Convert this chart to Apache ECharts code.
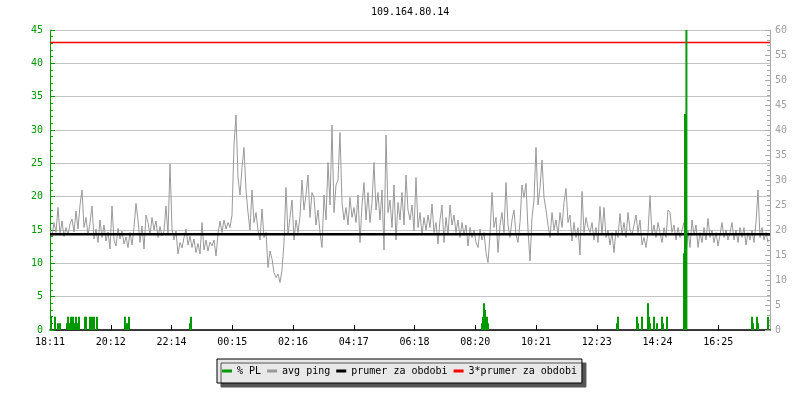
<!DOCTYPE html>
<html>
<head>
<meta charset="utf-8">
<script src="https://cdn.jsdelivr.net/npm/echarts@6/dist/echarts.min.js"></script>
<style>
html,body{margin:0;padding:0;background:#fff;}
#chart{width:800px;height:400px;}
</style>
</head>
<body>
<div id="chart"></div>
<script>
// ---- data ----
const titleText = '109.164.80.14';
const xLabels = ['18:11','20:12','22:14','00:15','02:16','04:17','06:18','08:20','10:21','12:23','14:24','16:25'];
const sampleCount = 360;      // samples across the 24h window
const labelStep = 30.375;     // samples between time labels

// avg ping (ms, right axis)
const pingValues = [
20.0,18.8,21.5,19.5,24.5,19.2,21.8,18.7,20.5,19.0,
21.2,22.2,19.6,23.8,20.2,25.0,28.0,20.5,22.5,19.0,
21.5,24.8,18.2,20.2,17.5,22.0,18.5,21.0,17.8,19.6,
16.2,24.8,18.0,16.8,20.3,18.2,19.8,17.2,18.6,16.5,
19.5,17.0,20.5,25.3,22.0,17.5,20.8,16.2,23.0,21.5,
19.0,22.5,20.0,21.8,18.5,20.7,18.8,19.8,24.8,19.0,
33.2,20.2,18.0,19.8,15.2,17.5,16.4,18.5,20.2,17.0,
18.8,16.5,18.2,15.5,17.3,15.2,21.5,16.0,18.0,15.8,
17.6,16.8,18.0,14.8,19.2,21.8,19.5,22.0,20.2,21.5,
20.5,23.0,37.0,43.0,30.5,27.0,32.5,36.5,28.0,23.5,
20.0,28.0,21.5,23.5,20.0,18.0,24.2,18.5,19.5,12.5,
15.8,14.2,11.5,10.5,11.2,9.5,12.0,17.5,28.5,19.0,
22.5,26.0,18.0,22.0,19.5,22.8,30.0,24.0,27.0,31.0,
22.5,27.5,26.5,21.0,24.0,19.5,16.5,27.0,22.0,33.5,
25.0,41.0,23.5,29.0,30.0,39.5,25.5,22.0,24.5,21.0,
26.5,22.5,24.5,21.5,27.0,17.5,25.0,29.5,22.0,27.5,
21.5,25.5,33.5,24.0,27.5,22.0,28.0,16.0,39.0,23.5,
26.0,20.5,29.0,18.0,25.5,22.0,27.5,21.0,31.0,24.0,
22.0,25.0,19.8,30.5,20.5,23.5,19.0,22.5,20.0,23.0,
20.5,25.2,19.5,21.5,17.2,22.0,25.0,17.5,22.5,19.0,
25.0,21.0,23.0,19.5,22.0,18.5,21.5,19.0,21.0,16.8,
20.5,18.5,20.0,17.5,16.5,20.2,18.0,19.5,15.5,13.5,
19.0,27.5,20.5,22.5,15.5,21.0,23.5,19.5,29.5,21.0,
18.5,22.0,24.0,19.0,17.5,21.5,29.0,26.5,29.3,20.0,
13.8,22.5,26.0,36.5,25.0,28.5,34.0,26.5,24.0,21.0,
18.5,23.5,20.0,22.0,19.0,23.5,20.5,25.5,28.3,21.5,
23.0,17.8,21.5,18.5,20.5,15.0,27.7,19.5,22.5,20.5,
19.5,21.5,18.0,20.5,17.5,24.7,19.0,24.5,18.5,20.0,
17.0,19.5,15.5,20.0,18.5,23.3,19.0,21.5,18.5,23.5,
20.0,19.0,21.0,23.0,19.5,22.0,17.0,18.5,16.5,19.5,
26.9,19.0,21.0,18.5,21.5,19.5,17.5,20.5,18.5,24.0,
23.5,19.5,21.0,18.0,20.5,18.5,20.0,21.5,14.5,20.0,
16.5,22.0,19.0,21.0,16.5,19.5,17.5,20.5,18.0,22.3,
18.5,20.0,17.5,19.5,16.8,19.0,21.5,18.5,20.0,18.0,
19.5,21.5,18.0,20.0,17.5,20.5,18.5,20.5,17.0,19.5,
18.0,20.0,17.5,21.5,28.0,18.5,20.5,18.0,19.5,17.5
];

// % packet loss (left axis): sample position and value
const plPos = [0.5,2.5,4,5,8.5,9,10,10.5,11.5,12.5,13,14,14.5,17.5,18,20,21,22,23.5,37.5,
  38.5,39.5,70,70.5,216,216.5,217,217.5,218,218.5,219,283.5,284,293.5,294,296,299,299.5,300,302,
  303.5,306,306.5,308.5,317,317.5,318.2,351,351.5,353.5,354,359];
const plVal = [2,2,1,1,1,2,1,2,2,1,2,1,2,2,2,2,2,2,2,2,
  1,2,1,2,1,2,4,3,1,2,1,1,2,2,1,2,4,2,1,2,
  1,2,1,2,11.5,32.4,100,2,1,2,1,2];

const prumer = 19.17;        // period average (ms)
const trojPrumer = 57.5;     // 3 * average (ms)

const seriesNames = ['% PL','avg ping','prumer za obdobi','3*prumer za obdobi'];

// ---- chart ----
const FONT = 'DejaVu Sans Mono';
const GREEN = '#009900';
const GREY = '#999999';
const chart = echarts.init(document.getElementById('chart'), null, {renderer:'canvas'});

chart.setOption({
  animation: false,
  backgroundColor: '#ffffff',
  title: {
    text: titleText,
    left: 371, top: 7, padding: 0,
    textStyle: {fontFamily: FONT, fontSize: 10, fontWeight: 'normal', color: '#000'}
  },
  legend: {
    data: seriesNames,
    left: 217, top: 359,
    padding: [6,5,6,5],
    itemGap: 6, itemWidth: 10, itemHeight: 3,
    icon: 'rect',
    backgroundColor: '#e8e8e8',
    borderColor: '#000', borderWidth: 1, borderRadius: 0,
    shadowColor: '#555555', shadowBlur: 0, shadowOffsetX: 4, shadowOffsetY: 4,
    textStyle: {fontFamily: FONT, fontSize: 10, color: '#000', lineHeight: 12}
  },
  grid: {left: 50, right: 30, top: 30, bottom: 70, containLabel: false},
  xAxis: {
    type: 'value', min: 0, max: sampleCount, interval: labelStep,
    axisLine: {show: true, onZero: false, lineStyle: {color: '#000', width: 1.5}},
    axisTick: {show: true, inside: true, length: 5, lineStyle: {color: '#000', width: 1}},
    axisLabel: {
      show: true, margin: 7, color: '#000', fontFamily: FONT, fontSize: 10,
      showMaxLabel: false,
      formatter: function (v) {
        const i = Math.round(v / labelStep);
        if (Math.abs(v - i * labelStep) < 1e-6 && i >= 0 && i < xLabels.length) return xLabels[i];
        return '';
      }
    },
    splitLine: {show: false}
  },
  yAxis: [
    {
      type: 'value', min: 0, max: 45, interval: 5, position: 'left',
      axisLine: {show: true, lineStyle: {color: GREEN, width: 1}},
      axisTick: {show: true, inside: true, length: 5, lineStyle: {color: GREEN}},
      minorTick: {show: true, splitNumber: 5, length: 3, lineStyle: {color: GREEN}},
      axisLabel: {color: GREEN, fontFamily: FONT, fontSize: 10, margin: 7},
      splitLine: {show: true, lineStyle: {color: '#c4c4c4', width: 1}}
    },
    {
      type: 'value', min: 0, max: 60, interval: 5, position: 'right',
      axisLine: {show: true, lineStyle: {color: '#a8a8a8', width: 1}},
      axisTick: {show: true, inside: true, length: 5, lineStyle: {color: '#a8a8a8'}},
      minorTick: {show: true, splitNumber: 5, length: 3, lineStyle: {color: '#a8a8a8'}},
      axisLabel: {color: '#a0a0a0', fontFamily: FONT, fontSize: 10, margin: 5},
      splitLine: {show: false}
    }
  ],
  series: [
    {
      name: seriesNames[0], type: 'bar', yAxisIndex: 0, xAxisIndex: 0,
      data: plPos.map((p, i) => [p, plVal[i]]),
      barWidth: 2, clip: true, z: 5,
      itemStyle: {color: GREEN}
    },
    {
      name: seriesNames[1], type: 'line', yAxisIndex: 1,
      data: pingValues.map((v, i) => [i, v]),
      showSymbol: false, symbol: 'none', z: 2,
      lineStyle: {color: GREY, width: 1},
      itemStyle: {color: GREY}
    },
    {
      name: seriesNames[2], type: 'line', yAxisIndex: 1,
      data: [[0, prumer], [sampleCount, prumer]],
      showSymbol: false, symbol: 'none', z: 3,
      lineStyle: {color: '#000', width: 2.5},
      itemStyle: {color: '#000'}
    },
    {
      name: seriesNames[3], type: 'line', yAxisIndex: 1,
      data: [[0, trojPrumer], [sampleCount, trojPrumer]],
      showSymbol: false, symbol: 'none', z: 3,
      lineStyle: {color: '#ff0000', width: 1.5},
      itemStyle: {color: '#ff0000'}
    }
  ]
});
</script>
</body>
</html>
